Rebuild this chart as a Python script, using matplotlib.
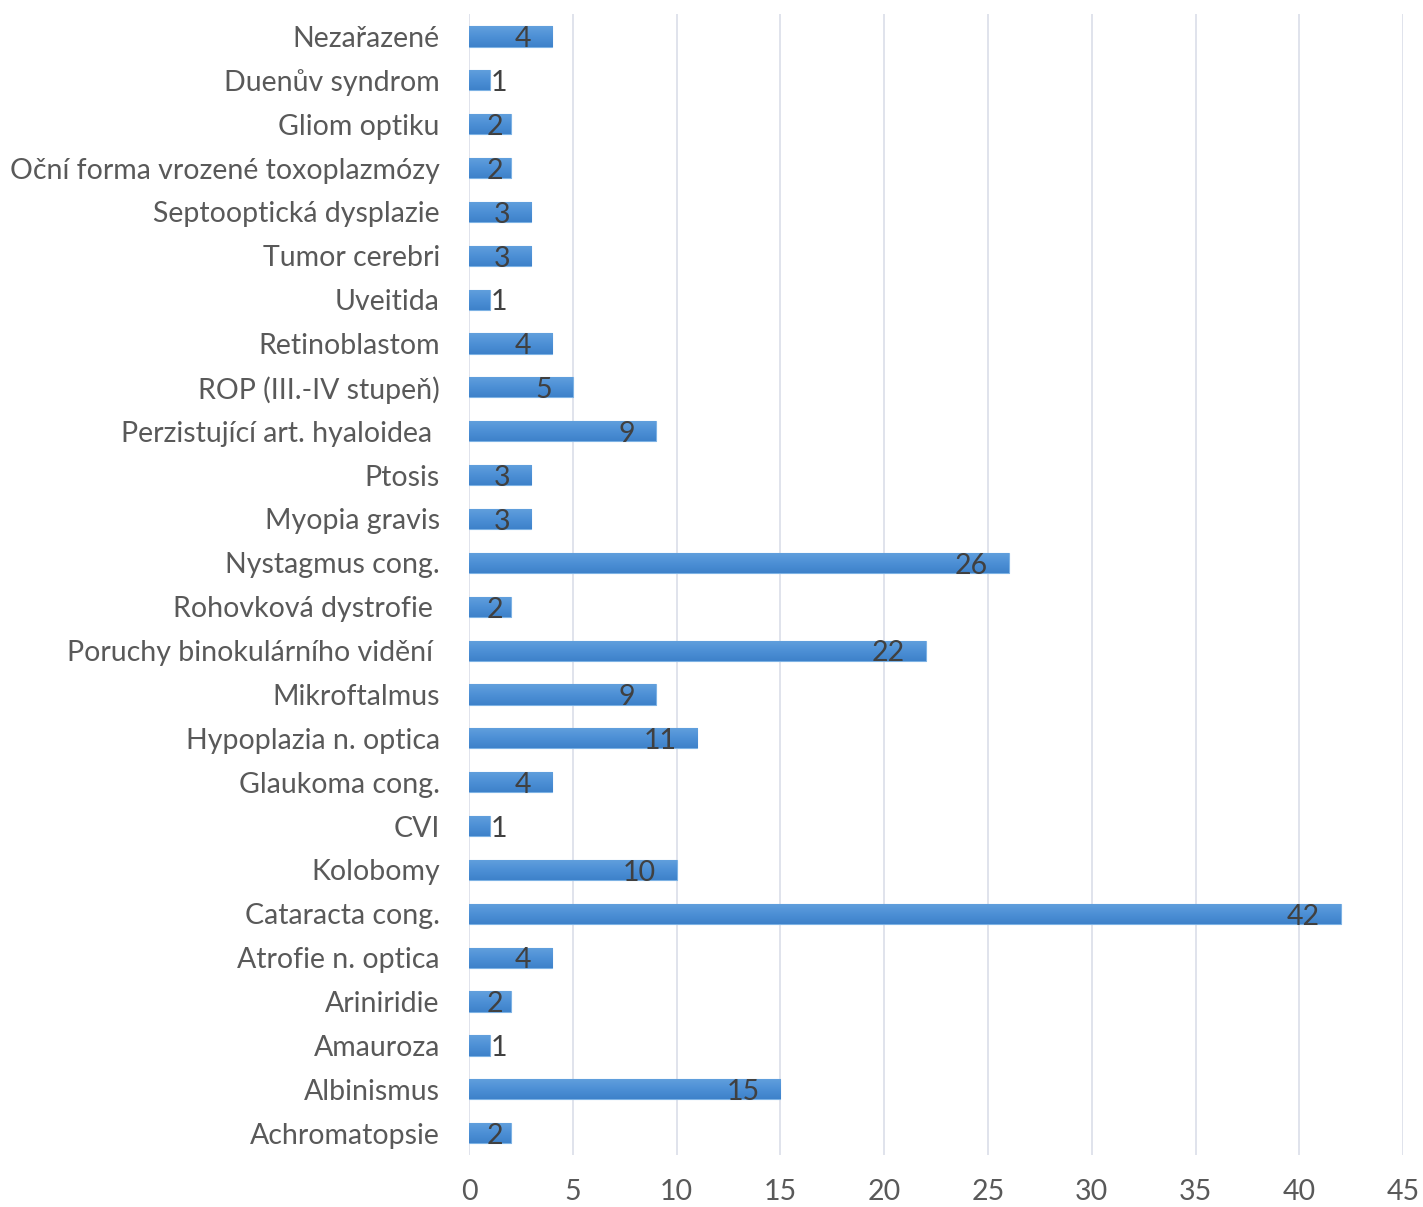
import matplotlib
matplotlib.use("Agg")
import matplotlib.pyplot as plt
import numpy as np
from matplotlib.colors import LinearSegmentedColormap

# categories from bottom to top
categories = [
    "Achromatopsie", "Albinismus", "Amauroza", "Ariniridie", "Atrofie n. optica",
    "Cataracta cong.", "Kolobomy", "CVI", "Glaukoma cong.", "Hypoplazia n. optica",
    "Mikroftalmus", "Poruchy binokulárního vidění ", "Rohovková dystrofie ",
    "Nystagmus cong.", "Myopia gravis", "Ptosis", "Perzistující art. hyaloidea ",
    "ROP (III.-IV stupeň)", "Retinoblastom", "Uveitida", "Tumor cerebri",
    "Septooptická dysplazie", "Oční forma vrozené toxoplazmózy", "Gliom optiku",
    "Duenův syndrom", "Nezařazené",
]
counts = [2, 15, 1, 2, 4, 42, 10, 1, 4, 11, 9, 22, 2, 26, 3, 3, 9, 5, 4, 1, 3, 3, 2, 2, 1, 4]
xticks = [0, 5, 10, 15, 20, 25, 30, 35, 40, 45]

plt.rcParams['font.family'] = ['Lato', 'DejaVu Sans']
text_col = '#595959'
fs = 20.5

fig = plt.figure(figsize=(14.23, 12.07), dpi=100)
ax = fig.add_axes([0.3296, 0.043, 0.6564, 0.945])

y = list(range(len(categories)))
bars = ax.barh(y, counts, height=0.46, color='#4A8DD4', edgecolor='#7DB2E4', linewidth=0.8, zorder=3)

# Excel-like vertical gradient fill in each bar
grad = LinearSegmentedColormap.from_list('g', ['#3E82CA', '#4D90D6', '#62A0DD'])
for b in bars:
    x0, y0, w, h = b.get_x(), b.get_y(), b.get_width(), b.get_height()
    im = ax.imshow(np.linspace(0, 1, 32).reshape(-1, 1), cmap=grad, aspect='auto',
                   extent=(x0, x0 + w, y0, y0 + h), origin='lower', zorder=3.5)
    im.set_clip_path(b)

# inside-end labels, kept inside the bar like Excel does
for b, v in zip(bars, counts):
    yc = b.get_y() + b.get_height() / 2
    if v >= 2:
        xr = max(v - 1.0, 1.64)
        ax.annotate(str(v), (xr, yc), xytext=(0, -2), textcoords='offset points',
                    ha='right', va='center', fontsize=fs, color='#404040', zorder=4)
    else:
        ax.annotate(str(v), (v, yc), xytext=(1, -2), textcoords='offset points',
                    ha='left', va='center', fontsize=fs, color='#404040', zorder=4)

ax.set_xlim(0, 45)
ax.set_ylim(-0.5, len(categories) - 0.5)
ax.set_xticks(xticks)
ax.set_yticks(y)
ax.set_yticklabels(categories)
ax.tick_params(axis='both', length=0, labelsize=fs, labelcolor=text_col)
ax.tick_params(axis='y', pad=21)
ax.tick_params(axis='x', pad=17)
ax.grid(axis='x', color='#DDE1EA', linewidth=1.3, zorder=0)
for s in ax.spines.values():
    s.set_visible(False)

fig.savefig('out.png', dpi=100)
